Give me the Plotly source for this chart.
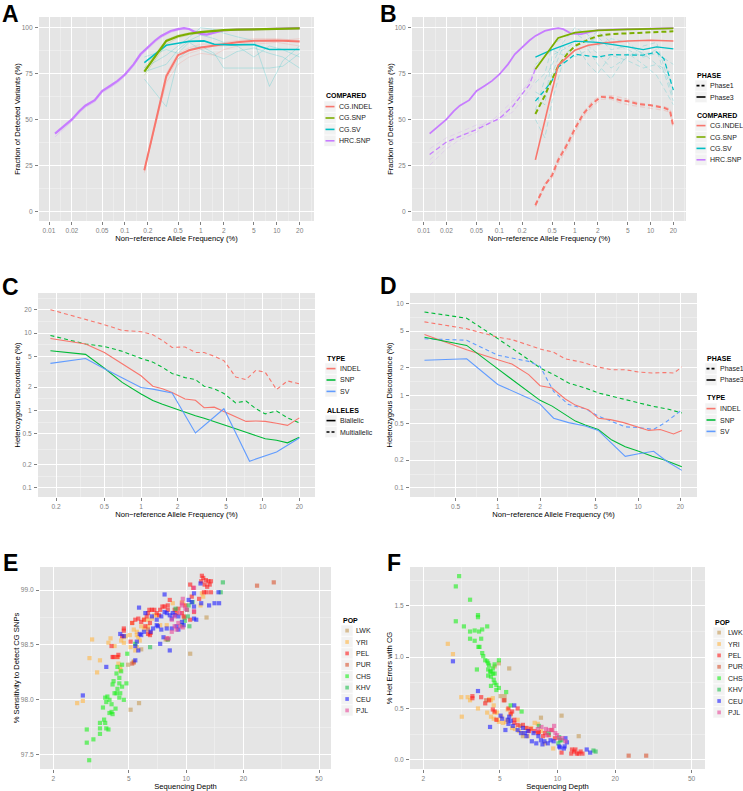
import numpy as np
import plotly.graph_objects as go

W, H = 743, 791
FONT = "Liberation Sans, Arial, sans-serif"

# ======================= DATA =======================
# ---- Panel A : fraction of detected variants (Phase3) ----
A_HRC_X = [0.012, 0.015, 0.02, 0.025, 0.03, 0.04, 0.05, 0.065, 0.08, 0.1, 0.13, 0.16, 0.2, 0.25,
           0.3, 0.4, 0.5, 0.6, 0.7, 0.8, 1.0, 1.2, 1.5, 2, 3, 5, 10, 20]
A_HRC_Y = [42.3, 45.5, 50, 54.5, 57.5, 60.5, 65.5, 68.5, 71, 74.5, 80, 85.5, 89.5, 93,
           95.5, 98.2, 99.2, 99.7, 99.3, 98.0, 96.6, 96.2, 97.3, 98.6, 98.9, 99.2, 99.6, 99.7]
A_HRC_FAINT = [[40.5, 44, 49, 53.5, 56.5, 59.5, 64.5, 67.5, 70, 73.5, 79, 84.5, 88.5, 92,
                94.5, 97.4, 98.6, 99.3, 99.0, 97.6, 96.3, 96.0, 97.0, 98.3, 98.6, 99.0, 99.5, 99.6]]
A_SNP_X = [0.18, 0.35, 0.5, 0.7, 1, 1.4, 2, 3, 5, 10, 20]
A_SNP_Y = [76, 92.8, 95.3, 96.7, 97.6, 98.2, 98.6, 98.9, 99.1, 99.3, 99.6]
A_SNP_FAINT = [[74, 91, 94.5, 96, 97, 97.8, 98.3, 98.7, 99, 99.2, 99.4],
               [78, 93.5, 96, 97.2, 98, 98.6, 98.8, 99.1, 99.3, 99.5, 99.7]]
A_SV_X = [0.18, 0.35, 0.5, 0.7, 1.1, 1.5, 2.5, 5, 8, 20]
A_SV_Y = [81, 90.4, 91.5, 92.5, 92.8, 91, 90.6, 90.8, 88.1, 88.1]
A_SVF_X = [0.18, 0.35, 0.5, 0.7, 1, 1.5, 2, 3, 5, 8, 12, 20]
A_SV_FAINT = [[72, 57, 83, 88, 90, 86, 78, 78, 78, 78, 79, 86],
              [78, 85, 90, 95, 100, 99, 97, 95, 93, 68, 82, 90],
              [84, 88, 86, 92, 88, 85, 83, 87, 89, 86, 84, 78],
              [76, 80, 88, 93, 96, 94, 92, 90, 84, 90, 88, 84]]
A_INDEL_X = [0.18, 0.35, 0.5, 0.7, 1, 1.5, 2, 3, 5, 10, 20]
A_INDEL_Y = [22.3, 73.5, 85, 87.7, 89.2, 90.3, 91, 92, 92.8, 93, 92.5]
A_INDEL_FAINT = [[23, 70, 80, 84, 86, 85, 88, 90, 91, 92, 90],
                 [21, 75, 86, 89, 91, 91, 92, 93, 94, 94, 93],
                 [22, 72, 83, 86, 88, 90, 90, 91, 92, 93, 94]]

# ---- Panel B : Phase1 (dashed) vs Phase3 (solid) ----
B_HRC3_X = [0.012, 0.015, 0.02, 0.025, 0.03, 0.04, 0.05, 0.065, 0.08, 0.1, 0.13, 0.16, 0.2, 0.25,
            0.3, 0.4, 0.5, 0.6, 0.7, 0.8, 0.9, 1.2, 1.5, 2, 3, 5, 10, 20]
B_HRC3_Y = [42.3, 45.5, 50, 54.5, 57.5, 60.5, 65.5, 68.5, 71, 74.5, 80, 85.5, 89.5, 93,
            95.5, 98.2, 99.2, 99.7, 99.2, 97.8, 96.7, 96.5, 97.6, 98.6, 98.9, 99.2, 99.6, 99.7]
B_HRC1_X = [0.012, 0.02, 0.03, 0.05, 0.07, 0.1, 0.15, 0.2, 0.25, 0.3]
B_HRC1_Y = [30.9, 37.7, 40.8, 44.5, 47.5, 50.5, 57, 63.5, 69, 77.5]
B_HRC1_FAINT = [[25, 34, 39, 43, 48, 50, 54, 61, 66, 72],
                [34, 40, 43, 47, 47, 53, 60, 66, 70, 80],
                [28, 36, 41, 45, 49, 51, 58, 64, 72, 76]]
B_SNP3_X = [0.3, 0.6, 1, 2, 5, 20]
B_SNP3_Y = [77.3, 94.4, 97.3, 98.5, 99.1, 99.6]
B_SNP1_X = [0.3, 0.4, 0.5, 0.6, 0.8, 1, 1.5, 2, 3, 5, 10, 20]
B_SNP1_Y = [53, 63, 72, 79, 86, 90, 93.5, 95.5, 96.5, 97, 97.5, 98]
B_SV3_X = [0.3, 0.5, 1, 2, 5, 8, 12, 20]
B_SV3_Y = [84, 88, 92.7, 92, 89.5, 88, 89.5, 88.4]
B_SV1_X = [0.3, 0.4, 0.5, 0.6, 0.8, 1, 2, 3, 8, 12, 15, 20]
B_SV1_Y = [60, 66, 71.3, 78.6, 82.2, 85.5, 84, 85.3, 85, 86.8, 83, 66]
B_SVF_X = [0.3, 0.4, 0.5, 0.7, 1, 1.5, 2, 3, 5, 8, 12, 20]
B_SV_FAINT = [[55, 72, 80, 92, 100, 96, 90, 94, 92, 85, 88, 60],
              [62, 58, 85, 88, 92, 80, 75, 85, 82, 78, 80, 70],
              [70, 75, 90, 95, 97, 92, 95, 88, 90, 86, 80, 75],
              [50, 40, 60, 82, 88, 90, 86, 78, 84, 90, 92, 62],
              [80, 84, 88, 85, 90, 94, 98, 92, 88, 84, 86, 80],
              [65, 62, 75, 90, 84, 88, 80, 72, 86, 80, 74, 58]]
B_INDEL3_X = [0.3, 0.6, 1, 1.5, 2.5, 5, 10, 20]
B_INDEL3_Y = [28, 79.5, 87.7, 90.4, 91.7, 92.7, 93.1, 92.7]
B_INDEL1_X = [0.3, 0.4, 0.5, 0.6, 0.8, 1, 1.3, 1.7, 2.2, 3, 4, 5, 7, 10, 15, 18, 20]
B_INDEL1_Y = [3.3, 14.2, 19.6, 27.8, 36.8, 45, 53.2, 58.6, 62.3, 61.9, 60.4, 59.9, 58.3, 57.7, 56.4, 55, 45.9]
B_INDEL1_FAINT = [[4, 13, 21, 29, 38, 46, 54, 60, 63, 63, 62, 61, 59, 58, 57, 56, 47],
                  [2.5, 15, 18, 26, 35, 43, 52, 57, 61, 61, 59, 58, 57, 56, 55, 54, 45]]

# ---- Panel C : heterozygous discordance, biallelic vs multiallelic ----
C_X = [0.18, 0.35, 0.5, 0.7, 1.0, 1.25, 1.5, 1.8, 2.3, 2.8, 3.3, 4.0, 4.8, 6.0, 7.3, 8.8, 10.5, 13, 16, 20]
C_INDEL_BI = [8.5, 7.2, 5.6, 4.0, 2.8, 2.05, 1.9, 1.7, 1.4, 1.35, 1.08, 1.1, 0.97, 0.83, 0.72, 0.73, 0.72, 0.68, 0.64, 0.8]
C_SNP_BI = [5.9, 5.3, 3.5, 2.3, 1.63, 1.34, 1.2, 1.08, 0.95, 0.85, 0.79, 0.72, 0.65, 0.58, 0.52, 0.47, 0.43, 0.41, 0.38, 0.45]
C_INDEL_MULTI = [20, 15.1, 12.8, 10.8, 10.4, 9.5, 8.0, 6.5, 6.6, 5.6, 5.6, 5.0, 4.4, 2.7, 2.5, 3.3, 3.1, 1.86, 2.4, 2.2]
C_SNP_MULTI = [9.3, 7.2, 6.7, 5.8, 4.7, 4.2, 3.6, 3.0, 2.65, 2.5, 2.05, 1.9, 1.65, 1.25, 1.32, 1.05, 0.9, 0.98, 0.8, 0.69]
C_SV_X = [0.18, 0.35, 0.5, 1.0, 1.25, 1.8, 2.8, 4.8, 7.8, 13, 20]
C_SV_BI = [4.05, 4.67, 3.45, 1.97, 1.88, 1.68, 0.51, 1.05, 0.22, 0.29, 0.44]

# ---- Panel D : heterozygous discordance, Phase1 vs Phase3 ----
D_INDEL3_X = [0.3, 0.6, 1.0, 1.26, 1.66, 2.0, 2.44, 3.03, 3.57, 4.45, 5.2, 6.35, 7.9, 10.1, 11.9, 14.4, 17.9, 20.5]
D_INDEL3_Y = [4.6, 3.15, 2.45, 2.2, 1.69, 1.28, 1.21, 0.92, 0.79, 0.7, 0.57, 0.55, 0.51, 0.45, 0.42, 0.43, 0.385, 0.42]
D_SNP3_X = [0.3, 0.6, 1.0, 2.0, 2.44, 3.03, 3.57, 4.2, 5.2, 6.5, 8.1, 10.1, 12.6, 15.6, 20.5]
D_SNP3_Y = [4.3, 3.5, 1.95, 0.89, 0.77, 0.62, 0.53, 0.48, 0.43, 0.33, 0.28, 0.25, 0.22, 0.20, 0.17]
D_SV3_X = [0.3, 0.6, 1.0, 1.66, 2.0, 2.5, 3.2, 4.2, 5.2, 6.5, 8.1, 10.1, 12.9, 16, 20.5]
D_SV3_Y = [2.42, 2.51, 1.32, 0.94, 0.81, 0.57, 0.51, 0.47, 0.42, 0.3, 0.22, 0.235, 0.25, 0.195, 0.155]
D_INDEL1_X = [0.3, 0.6, 1.0, 1.26, 2.0, 2.5, 3.03, 4.0, 5.2, 6.5, 8.1, 10.1, 12.6, 15.6, 18, 20.5]
D_INDEL1_Y = [6.3, 5.3, 4.3, 4.05, 3.2, 2.95, 2.5, 2.3, 2.04, 1.91, 1.91, 1.8, 1.76, 1.78, 1.76, 2.04]
D_SNP1_X = [0.3, 0.6, 1.0, 1.26, 1.66, 2.0, 2.5, 3.2, 4.2, 5.2, 8.1, 10.1, 12.6, 16, 20.5]
D_SNP1_Y = [8.05, 6.9, 4.15, 3.28, 2.45, 2.0, 1.69, 1.37, 1.21, 1.07, 0.91, 0.83, 0.77, 0.72, 0.65]
D_SV1_X = [0.3, 0.6, 1.0, 1.66, 2.0, 2.5, 3.2, 4.2, 5.2, 6.5, 8.1, 10.1, 12.9, 15.6, 20.5]
D_SV1_Y = [4.14, 3.98, 2.74, 2.35, 2.08, 1.11, 0.8, 0.72, 0.6, 0.52, 0.46, 0.45, 0.43, 0.51, 0.7]

# ---- Panel E : sensitivity vs depth (depth, %) ----
POPS = ["LWK", "YRI", "PEL", "PUR", "CHS", "KHV", "CEU", "PJL"]
E_LWK = [(12.8, 98.75), (10.5, 98.42), (5.65, 97.97), (5.1, 97.91), (4.95, 98.32), (5.3, 98.35), (5.8, 98.46), (7.8, 98.55)]
E_YRI = [(2.67, 97.97), (2.86, 97.99), (3.2, 98.55), (3.1, 98.38), (3.52, 98.36), (3.4, 98.25), (3.9, 98.52), (4.2, 98.49),
         (4.35, 98.39), (4.4, 98.33), (4.5, 98.3), (4.5, 98.27), (4.7, 98.57), (4.55, 98.54), (4.7, 98.52), (4.8, 98.58),
         (5.05, 98.59), (5.3, 98.64), (5.2, 98.7), (5.5, 98.62), (5.5, 98.59), (5.6, 98.57), (5.7, 98.54), (5.5, 98.48),
         (5.4, 98.45), (5.8, 98.67), (6.0, 98.65), (6.3, 98.73), (6.3, 98.67), (6.6, 98.74), (6.8, 98.77), (7.3, 98.68),
         (7.9, 98.68), (7.9, 98.56), (8.5, 98.88), (9.5, 98.89), (9.6, 98.88), (11.9, 98.86), (12.3, 98.94), (12.1, 98.97),
         (6.0, 98.73), (7.0, 98.77), (4.0, 98.56), (5.1, 98.48)]
E_PEL = [(12.1, 99.13), (12.3, 99.11), (12.0, 99.08), (12.7, 99.09), (13.1, 99.08), (13.5, 99.08), (13.3, 99.05), (12.9, 99.03),
         (12.5, 99.05), (10.5, 99.05), (10.9, 99.02), (11.7, 98.92), (12.8, 98.98), (13.5, 98.98), (12.4, 98.98), (11.0, 98.8),
         (10.7, 98.94), (8.2, 98.91), (8.0, 98.86), (7.7, 98.85), (7.5, 98.85), (7.3, 98.82), (6.6, 98.82), (6.4, 98.82),
         (6.3, 98.79), (6.2, 98.76), (6.0, 98.73), (5.8, 98.71), (5.6, 98.74), (5.4, 98.73), (5.2, 98.7), (6.1, 98.67),
         (6.45, 98.7), (6.8, 98.82), (7.0, 98.79), (7.2, 98.77), (8.0, 98.82), (8.7, 98.82), (9.1, 98.83), (8.9, 98.79),
         (9.5, 98.79), (9.7, 98.76), (10.5, 98.73), (9.9, 98.86), (4.7, 98.65), (4.7, 98.63), (4.6, 98.58), (4.35, 98.39),
         (4.1, 98.39), (4.15, 98.39), (4.4, 98.41), (4.05, 98.49), (5.1, 98.53), (6.3, 98.6), (6.45, 98.59), (6.5, 98.61)]
E_PUR = [(23.6, 99.04), (28.9, 99.07), (5.3, 98.34), (5.2, 98.33), (6.3, 98.64), (8.0, 98.55), (9.8, 98.75)]
E_CHS = [(3.09, 97.45), (3.0, 97.61), (3.0, 97.73), (3.25, 97.64), (3.52, 97.79), (3.52, 97.74), (3.52, 97.69), (3.7, 97.82),
         (3.75, 97.79), (3.8, 97.74), (3.9, 97.73), (3.65, 97.93), (3.75, 98.02), (3.85, 98.03), (3.8, 97.98), (3.95, 98.0),
         (3.95, 97.88), (4.05, 97.89), (4.1, 97.87), (4.05, 97.96), (4.25, 97.92), (4.1, 98.14), (4.2, 98.06), (4.15, 98.17),
         (4.3, 98.24), (4.35, 98.3), (4.35, 98.1), (4.45, 98.15), (4.45, 98.2), (4.55, 98.26), (4.6, 98.32), (4.5, 98.06),
         (4.45, 98.02), (4.85, 98.15), (4.9, 98.42), (5.4, 98.51), (4.3, 98.06), (4.6, 98.12), (4.7, 98.0)]
E_KHV = [(6.46, 98.48), (8.0, 98.55), (9.84, 98.72), (9.5, 98.68), (10.3, 98.86), (10.1, 98.82), (10.4, 98.67), (10.8, 98.89),
         (15.2, 98.98), (15.6, 99.07), (8.8, 98.83), (10.2, 98.76)]
E_CEU = [(7.7, 98.96), (5.65, 98.84), (6.1, 98.79), (6.6, 98.76), (7.0, 98.73), (7.4, 98.76), (7.7, 98.8), (7.9, 98.79),
         (8.2, 98.77), (8.4, 98.74), (8.5, 98.79), (8.7, 98.77), (9.1, 98.76), (9.5, 98.71), (9.7, 98.68), (8.9, 98.67),
         (9.1, 98.64), (8.4, 98.65), (7.9, 98.65), (7.4, 98.64), (7.1, 98.67), (7.0, 98.68), (6.7, 98.65), (6.5, 98.62),
         (6.0, 98.62), (5.8, 98.59), (5.7, 98.6), (5.5, 98.53), (5.4, 98.49), (5.6, 98.45), (5.4, 98.36), (4.5, 98.6),
         (4.7, 98.58), (3.8, 98.3), (7.3, 98.51), (8.2, 98.45), (7.6, 98.57), (11.9, 99.06), (11.0, 98.97), (10.7, 98.89),
         (11.0, 98.85), (12.0, 98.88), (13.2, 98.86), (14.1, 98.88), (14.9, 98.88), (14.8, 98.98), (11.0, 98.74),
         (11.3, 98.73), (2.86, 98.04), (10.3, 98.91)]
E_PJL = [(11.0, 99.02), (9.6, 98.92), (9.5, 98.86), (9.9, 98.83), (11.0, 98.81), (9.3, 98.79), (8.7, 98.76), (8.4, 98.73),
         (9.1, 98.7), (9.3, 98.67), (9.6, 98.66), (8.9, 98.64), (8.4, 98.62), (7.9, 98.56), (8.1, 98.56), (8.7, 98.67),
         (10.1, 98.82), (9.5, 98.88)]

# ---- Panel F : het errors vs depth (depth, %) ----
F_LWK = [(4.7, 0.91), (4.95, 0.94), (5.6, 0.89), (5.05, 0.62), (5.3, 0.62), (8.2, 0.41), (10.5, 0.43), (12.9, 0.23), (6.6, 0.23)]
F_YRI = [(2.68, 1.13), (2.85, 1.03), (3.15, 0.61), (3.17, 0.42), (3.4, 0.61), (3.5, 0.58), (3.85, 0.5), (4.3, 0.46),
         (4.4, 0.59), (4.5, 0.58), (4.6, 0.6), (4.5, 0.42), (4.65, 0.40), (4.7, 0.46), (4.85, 0.39), (4.95, 0.37),
         (5.1, 0.42), (5.2, 0.36), (5.4, 0.37), (5.5, 0.49), (5.5, 0.39), (5.7, 0.44), (5.8, 0.31), (6.0, 0.30),
         (6.2, 0.39), (6.3, 0.28), (6.6, 0.26), (6.8, 0.31), (7.0, 0.23), (7.3, 0.31), (7.6, 0.36), (7.9, 0.35),
         (8.2, 0.28), (8.6, 0.16), (9.5, 0.11), (4.65, 0.53), (4.85, 0.46)]
F_PEL = [(3.6, 0.62), (3.6, 0.60), (4.0, 0.61), (4.2, 0.55), (4.4, 0.58), (4.6, 0.49), (4.7, 0.47), (4.8, 0.39),
         (5.25, 0.58), (5.55, 0.50), (5.7, 0.45), (5.8, 0.47), (6.2, 0.50), (5.95, 0.39), (5.95, 0.36), (6.2, 0.34),
         (6.6, 0.34), (6.9, 0.31), (7.1, 0.28), (7.25, 0.30), (7.6, 0.28), (7.9, 0.26), (8.0, 0.27), (8.6, 0.26),
         (8.4, 0.23), (9.0, 0.24), (9.3, 0.29), (9.7, 0.21), (10.5, 0.07), (11.9, 0.10), (12.2, 0.08), (12.4, 0.10),
         (12.6, 0.06), (12.9, 0.06), (13.2, 0.08), (13.5, 0.06), (11.8, 0.06)]
F_PUR = [(23.5, 0.04), (29.0, 0.04), (4.25, 0.58), (5.3, 0.58), (6.4, 0.33)]
F_CHS = [(3.07, 1.79), (2.95, 1.69), (2.95, 1.35), (3.25, 1.30), (3.5, 1.56), (3.5, 1.25), (3.5, 1.18), (3.7, 1.26),
         (3.7, 1.16), (3.85, 1.41), (3.85, 1.39), (3.9, 1.25), (4.0, 1.18), (4.05, 1.27), (3.87, 1.10), (3.92, 1.10),
         (3.8, 0.88), (4.3, 1.30), (4.05, 1.04), (4.1, 1.01), (4.2, 0.97), (4.3, 0.96), (4.35, 0.94), (4.4, 0.92),
         (4.35, 0.88), (4.45, 0.86), (4.5, 0.86), (4.6, 0.84), (4.7, 0.84), (4.65, 0.78), (4.7, 0.75), (4.35, 0.82),
         (4.5, 0.81), (4.5, 0.72), (4.8, 0.73), (4.95, 0.70), (4.95, 0.97), (5.4, 0.66), (5.7, 0.53), (6.5, 0.47),
         (4.7, 0.93), (4.6, 0.89), (4.8, 0.68)]
F_KHV = [(10.3, 0.19), (10.5, 0.19), (10.1, 0.16), (15.4, 0.09), (15.8, 0.08), (8.0, 0.33), (9.0, 0.26), (10.2, 0.22)]
F_CEU = [(2.85, 0.96), (3.85, 0.67), (4.45, 0.32), (5.05, 0.43), (5.15, 0.40), (5.35, 0.29), (5.5, 0.39), (5.55, 0.35),
         (5.7, 0.38), (5.85, 0.33), (5.95, 0.53), (6.2, 0.29), (6.45, 0.26), (6.6, 0.31), (6.75, 0.26), (6.9, 0.23),
         (7.0, 0.28), (7.35, 0.18), (7.5, 0.26), (7.75, 0.16), (7.95, 0.23), (8.2, 0.19), (8.35, 0.15), (8.55, 0.18),
         (8.9, 0.16), (9.2, 0.19), (9.55, 0.18), (10.2, 0.13), (10.3, 0.12), (10.8, 0.11), (11.0, 0.21), (11.2, 0.17),
         (10.9, 0.13), (14.2, 0.10), (14.8, 0.07), (5.6, 0.42)]
F_PJL = [(8.25, 0.32), (8.7, 0.30), (9.0, 0.29), (9.4, 0.29), (9.6, 0.33), (9.75, 0.26), (9.95, 0.24), (10.2, 0.21),
         (10.6, 0.21), (11.0, 0.18), (7.9, 0.30), (8.8, 0.24)]

# tick values
A_XTICKS = [0.01, 0.02, 0.05, 0.1, 0.2, 0.5, 1, 2, 5, 10, 20]
A_XTEXT = ["0.01", "0.02", "0.05", "0.1", "0.2", "0.5", "1", "2", "5", "10", "20"]
A_YTICKS = [0, 25, 50, 75, 100]
C_XTICKS = [0.2, 0.5, 1, 2, 5, 10, 20]
C_XTEXT = ["0.2", "0.5", "1", "2", "5", "10", "20"]
C_YTICKS = [0.1, 0.2, 0.5, 1, 2, 5, 10, 20]
C_YTEXT = ["0.1", "0.2", "0.5", "1", "2", "5", "10", "20"]
D_XTICKS = [0.5, 1, 2, 5, 10, 20]
D_XTEXT = ["0.5", "1", "2", "5", "10", "20"]
D_YTICKS = [0.1, 0.2, 0.5, 1, 2, 5, 10]
D_YTEXT = ["0.1", "0.2", "0.5", "1", "2", "5", "10"]
E_XTICKS = [2, 5, 10, 20, 50]
E_YTICKS = [97.5, 98.0, 98.5, 99.0]
F_YTICKS = [0.0, 0.5, 1.0, 1.5]

# ======================= STYLE =======================
C4 = {"CG.INDEL": "#F8766D", "CG.SNP": "#7CAE00", "CG.SV": "#00BFC4", "HRC.SNP": "#C77CFF"}
C3 = {"INDEL": "#F8766D", "SNP": "#00BA38", "SV": "#619CFF"}
POPCOL = {"LWK": "#C49A55", "YRI": "#FFB545", "PEL": "#FF1A1A", "PUR": "#D9542F",
          "CHS": "#1AF01A", "KHV": "#22C050", "CEU": "#1A1AFF", "PJL": "#E8489A"}
BG = "#E5E5E5"
MINOR = "#F2F2F2"
TICKGREY = "#7F7F7F"

# panel plot-area rectangles in pixels (left, top, right, bottom)
PANEL = {
    "A": (39, 17, 314, 221),
    "B": (412, 17, 686, 221),
    "C": (38, 293, 315, 497),
    "D": (410, 293, 697, 497),
    "E": (40, 567, 331, 769),
    "F": (410, 567, 705, 769),
}
RANGES = {
    "A": ([-2.132, 1.490], [-5.3, 105.8]),
    "B": ([-2.154, 1.468], [-5.3, 105.8]),
    "C": ([-0.847, 1.430], [-1.12, 1.517]),
    "D": ([-0.626, 1.420], [-1.098, 1.112]),
    "E": ([0.231, 1.762], [97.37, 99.21]),
    "F": ([0.231, 1.769], [-0.09, 1.879]),
}
AX = {"A": "", "B": "2", "C": "3", "D": "4", "E": "5", "F": "6"}

fig = go.Figure()


def log_minor(vals):
    v = np.array(vals, dtype=float)
    mids = list(np.sqrt(v[:-1] * v[1:]))
    return [v[0] / np.sqrt(v[1] / v[0])] + mids + [v[-1] * np.sqrt(v[-1] / v[-2])]


def lin_minor(vals):
    v = np.array(vals, dtype=float)
    step = v[1] - v[0]
    return [v[0] - step / 2] + list((v[:-1] + v[1:]) / 2) + [v[-1] + step / 2]


def add_line(p, x, y, color, width=2.0, dash="solid", opacity=1.0):
    fig.add_trace(go.Scatter(x=x, y=y, mode="lines", opacity=opacity,
                             line=dict(color=color, width=width, dash=dash),
                             xaxis="x" + AX[p], yaxis="y" + AX[p],
                             showlegend=False, hoverinfo="skip"))


def add_points(p, pts, color):
    xs = [a for a, b in pts]
    ys = [b for a, b in pts]
    fig.add_trace(go.Scatter(x=xs, y=ys, mode="markers",
                             marker=dict(symbol="square", size=4.2, color=color, opacity=0.6,
                                         line=dict(width=0)),
                             xaxis="x" + AX[p], yaxis="y" + AX[p],
                             showlegend=False, hoverinfo="skip"))


DASH_B = "5px,3px"
DASH_C = "4px,3px"

# ---- Panel A ----
for fy in A_HRC_FAINT:
    add_line("A", A_HRC_X, fy, C4["HRC.SNP"], 1, opacity=0.25)
for fy in A_SNP_FAINT:
    add_line("A", A_SNP_X, fy, C4["CG.SNP"], 1, opacity=0.2)
for fy in A_SV_FAINT:
    add_line("A", A_SVF_X, fy, C4["CG.SV"], 1, opacity=0.22)
for fy in A_INDEL_FAINT:
    add_line("A", A_INDEL_X, fy, C4["CG.INDEL"], 1, opacity=0.2)
add_line("A", A_INDEL_X, A_INDEL_Y, C4["CG.INDEL"], 2)
add_line("A", A_SV_X, A_SV_Y, C4["CG.SV"], 1.6)
add_line("A", A_HRC_X, A_HRC_Y, C4["HRC.SNP"], 2.2)
add_line("A", A_SNP_X, A_SNP_Y, C4["CG.SNP"], 2.2)

# ---- Panel B ----
for fy in B_HRC1_FAINT:
    add_line("B", B_HRC1_X, fy, C4["HRC.SNP"], 1, DASH_B, 0.2)
for fy in B_SV_FAINT:
    add_line("B", B_SVF_X, fy, C4["CG.SV"], 1, DASH_B, 0.22)
for fy in B_INDEL1_FAINT:
    add_line("B", B_INDEL1_X, fy, C4["CG.INDEL"], 1.2, DASH_B, 0.22)
add_line("B", B_INDEL1_X, B_INDEL1_Y, C4["CG.INDEL"], 2, DASH_B)
add_line("B", B_SV1_X, B_SV1_Y, C4["CG.SV"], 1.3, DASH_B)
add_line("B", B_HRC1_X, B_HRC1_Y, C4["HRC.SNP"], 1.3, DASH_B)
add_line("B", B_SNP1_X, B_SNP1_Y, C4["CG.SNP"], 2, DASH_B)
add_line("B", B_INDEL3_X, B_INDEL3_Y, C4["CG.INDEL"], 1.6)
add_line("B", B_SV3_X, B_SV3_Y, C4["CG.SV"], 1.3)
add_line("B", B_HRC3_X, B_HRC3_Y, C4["HRC.SNP"], 1.8)
add_line("B", B_SNP3_X, B_SNP3_Y, C4["CG.SNP"], 1.8)

# ---- Panel C ----
add_line("C", C_X, C_INDEL_MULTI, C3["INDEL"], 1.1, DASH_C)
add_line("C", C_X, C_SNP_MULTI, C3["SNP"], 1.1, DASH_C)
add_line("C", C_X, C_INDEL_BI, C3["INDEL"], 1.1)
add_line("C", C_X, C_SNP_BI, C3["SNP"], 1.1)
add_line("C", C_SV_X, C_SV_BI, C3["SV"], 1.1)

# ---- Panel D ----
add_line("D", D_INDEL1_X, D_INDEL1_Y, C3["INDEL"], 1.1, DASH_C)
add_line("D", D_SNP1_X, D_SNP1_Y, C3["SNP"], 1.1, DASH_C)
add_line("D", D_SV1_X, D_SV1_Y, C3["SV"], 1.1, DASH_C)
add_line("D", D_INDEL3_X, D_INDEL3_Y, C3["INDEL"], 1.1)
add_line("D", D_SNP3_X, D_SNP3_Y, C3["SNP"], 1.1)
add_line("D", D_SV3_X, D_SV3_Y, C3["SV"], 1.1)

# ---- Panels E and F ----
E_DATA = {"LWK": E_LWK, "YRI": E_YRI, "PEL": E_PEL, "PUR": E_PUR,
          "CHS": E_CHS, "KHV": E_KHV, "CEU": E_CEU, "PJL": E_PJL}
F_DATA = {"LWK": F_LWK, "YRI": F_YRI, "PEL": F_PEL, "PUR": F_PUR,
          "CHS": F_CHS, "KHV": F_KHV, "CEU": F_CEU, "PJL": F_PJL}
for pop in POPS:
    add_points("E", E_DATA[pop], POPCOL[pop])
    add_points("F", F_DATA[pop], POPCOL[pop])

# ======================= AXES =======================
tickfont = dict(family=FONT, size=6.6, color=TICKGREY)
titlefont = dict(family=FONT, size=7.6, color="black")


def make_axes(p, xtype, ytype, xticks, xtext, yticks, ytext, xminor, yminor, xtitle, ytitle, ytickformat=None):
    l, t, r, b = PANEL[p]
    xr, yr = RANGES[p]
    common = dict(showgrid=True, gridcolor="white", gridwidth=1, zeroline=False, showline=False,
                  ticks="outside", ticklen=3, tickwidth=1, tickcolor=TICKGREY, tickfont=tickfont,
                  tickmode="array", fixedrange=True)
    xa = dict(common, type=xtype, range=xr, domain=[l / W, r / W], anchor="y" + AX[p],
              tickvals=xticks, ticktext=xtext,
              minor=dict(tickmode="array", tickvals=xminor, showgrid=True, gridcolor=MINOR, gridwidth=0.6, ticks=""),
              title=dict(text=xtitle, font=titlefont, standoff=0), ticklabelstandoff=0)
    ya = dict(common, type=ytype, range=yr, domain=[1 - b / H, 1 - t / H], anchor="x" + AX[p],
              tickvals=yticks, ticktext=ytext,
              minor=dict(tickmode="array", tickvals=yminor, showgrid=True, gridcolor=MINOR, gridwidth=0.6, ticks=""),
              title=dict(text=ytitle, font=titlefont, standoff=0), ticklabelstandoff=1)
    if ytickformat:
        ya["tickformat"] = ytickformat
        ya.pop("ticktext")
    fig.update_layout({"xaxis" + AX[p]: xa, "yaxis" + AX[p]: ya})


XT_AF = "Non\u2212reference Allele Frequency (%)"
make_axes("A", "log", "linear", A_XTICKS, A_XTEXT, A_YTICKS, [str(v) for v in A_YTICKS],
          log_minor(A_XTICKS), lin_minor(A_YTICKS), XT_AF, "Fraction of Detected Variants (%)")
make_axes("B", "log", "linear", A_XTICKS, A_XTEXT, A_YTICKS, [str(v) for v in A_YTICKS],
          log_minor(A_XTICKS), lin_minor(A_YTICKS), XT_AF, "Fraction of Detected Variants (%)")
make_axes("C", "log", "log", C_XTICKS, C_XTEXT, C_YTICKS, C_YTEXT,
          log_minor(C_XTICKS), log_minor(C_YTICKS), XT_AF, "Heterozygous Discordance (%)")
make_axes("D", "log", "log", D_XTICKS, D_XTEXT, D_YTICKS, D_YTEXT,
          log_minor(D_XTICKS), log_minor(D_YTICKS), XT_AF, "Heterozygous Discordance (%)")
make_axes("E", "log", "linear", E_XTICKS, [str(v) for v in E_XTICKS], E_YTICKS, None,
          log_minor(E_XTICKS), lin_minor(E_YTICKS), "Sequencing Depth", "% Sensitivity to Detect CG SNPs", ".1f")
make_axes("F", "log", "linear", E_XTICKS, [str(v) for v in E_XTICKS], F_YTICKS, None,
          log_minor(E_XTICKS), lin_minor(F_YTICKS), "Sequencing Depth", "% Het Errors with CG", ".1f")

# ======================= LEGENDS (ggplot-style keys) =======================
shapes = []
annotations = []


def px(xp, yp):
    return xp / W, 1 - yp / H


def legend_block(x0, ytitle, title, entries, kind, gap=13):
    tx, ty = px(x0, ytitle)
    annotations.append(dict(text="<b>" + title + "</b>", x=tx, y=ty, xref="paper", yref="paper",
                            xanchor="left", yanchor="middle", showarrow=False,
                            font=dict(family=FONT, size=7, color="black")))
    for i, (label, color, dash) in enumerate(entries):
        cy = ytitle + 10.6 + i * 11.4
        bx0, by0 = px(x0, cy - 5.6)
        bx1, by1 = px(x0 + 12, cy + 5.6)
        shapes.append(dict(type="rect", xref="paper", yref="paper", x0=bx0, x1=bx1, y0=by1, y1=by0,
                           fillcolor=MINOR, line=dict(color="white", width=0.6), layer="below"))
        if kind == "line":
            lx0, ly = px(x0 + 1.5, cy)
            lx1, _ = px(x0 + 10.5, cy)
            shapes.append(dict(type="line", xref="paper", yref="paper", x0=lx0, x1=lx1, y0=ly, y1=ly,
                               line=dict(color=color, width=1.6, dash=dash)))
        else:
            sx0, sy0 = px(x0 + 4.3, cy - 1.9)
            sx1, sy1 = px(x0 + 7.9, cy + 1.9)
            shapes.append(dict(type="rect", xref="paper", yref="paper", x0=sx0, x1=sx1, y0=sy1, y1=sy0,
                               fillcolor=color, opacity=0.6, line=dict(width=0)))
        lx, ly = px(x0 + gap, cy)
        annotations.append(dict(text=label, x=lx, y=ly, xref="paper", yref="paper",
                                xanchor="left", yanchor="middle", showarrow=False,
                                font=dict(family=FONT, size=7, color="#1A1A1A")))


cmp_entries = [(k, v, "solid") for k, v in C4.items()]
type_entries = [(k, v, "solid") for k, v in C3.items()]
phase_entries = [("Phase1", "black", "3px,2px"), ("Phase3", "black", "solid")]
allele_entries = [("Biallelic", "black", "solid"), ("Multiallelic", "black", "3px,2px")]
pop_entries = [(k, POPCOL[k], None) for k in POPS]

legend_block(324, 96, "COMPARED", cmp_entries, "line")
legend_block(695, 75, "PHASE", phase_entries, "line", 12.5)
legend_block(695, 115, "COMPARED", cmp_entries, "line", 12.5)
legend_block(325, 358, "TYPE", type_entries, "line")
legend_block(325, 410, "ALLELES", allele_entries, "line")
legend_block(705, 358, "PHASE", phase_entries, "line")
legend_block(705, 398, "TYPE", type_entries, "line")
legend_block(341, 620, "POP", pop_entries, "square")
legend_block(713, 622, "POP", pop_entries, "square", 12.5)

# panel letters: (left px, top px of text box)
LETTERS = {"A": (1, 0), "B": (379, 0), "C": (1, 273), "D": (379, 272), "E": (2, 549), "F": (386, 549)}
for letter, (lx, ly) in LETTERS.items():
    ax_, ay_ = px(lx, ly)
    annotations.append(dict(text="<b>" + letter + "</b>", x=ax_, y=ay_, xref="paper", yref="paper",
                            xanchor="left", yanchor="top", showarrow=False, borderpad=0,
                            font=dict(family=FONT, size=23, color="black")))

fig.update_layout(
    width=W, height=H, margin=dict(l=0, r=0, t=0, b=0),
    paper_bgcolor="white", plot_bgcolor=BG, showlegend=False,
    font=dict(family=FONT),
    shapes=shapes, annotations=annotations,
)

fig.write_html("out.html",
               config={"displayModeBar": False, "staticPlot": True},
               post_script="document.body.style.margin='0';document.body.style.padding='0';"
                           "document.body.style.overflow='hidden';")
